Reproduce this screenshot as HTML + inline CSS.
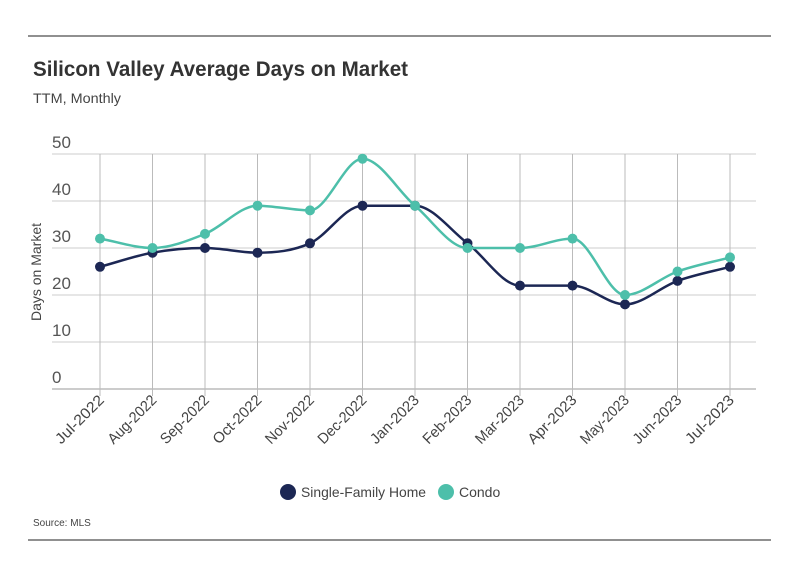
<!DOCTYPE html>
<html><head><meta charset="utf-8"><style>
body{margin:0;background:#fff;font-family:"Liberation Sans",sans-serif;}
svg text{font-family:"Liberation Sans",sans-serif;}
</style></head><body>
<svg id="chart" width="799" height="575">
<line x1="28" y1="36" x2="771" y2="36" stroke="#222" stroke-width="1"/>
<text x="33" y="76" font-size="21" font-weight="bold" fill="#333" textLength="375" lengthAdjust="spacingAndGlyphs">Silicon Valley Average Days on Market</text>
<text x="33" y="103" font-size="14" fill="#444" textLength="88" lengthAdjust="spacingAndGlyphs">TTM, Monthly</text>
<text transform="translate(41,272) rotate(-90)" text-anchor="middle" font-size="14" fill="#444">Days on Market</text>
<g id="grid"></g><g id="lines"></g><g id="xlabels"></g>
<g>
<circle cx="288" cy="492" r="8" fill="#1c2754"/>
<text x="301" y="497" font-size="14" fill="#444" textLength="125" lengthAdjust="spacingAndGlyphs">Single-Family Home</text>
<circle cx="446" cy="492" r="8" fill="#4dbfaa"/>
<text x="459" y="497" font-size="14" fill="#444">Condo</text>
</g>
<text x="33" y="526" font-size="10" fill="#444">Source:  MLS</text>
<line x1="28" y1="540" x2="771" y2="540" stroke="#222" stroke-width="1"/>
</svg>
<script>
const categories=["Jul-2022","Aug-2022","Sep-2022","Oct-2022","Nov-2022","Dec-2022","Jan-2023","Feb-2023","Mar-2023","Apr-2023","May-2023","Jun-2023","Jul-2023"];
const sfhValues=[26,29,30,29,31,39,39,31,22,22,18,23,26];
const condoValues=[32,30,33,39,38,49,39,30,30,32,20,25,28];
const yTicks=[0,10,20,30,40,50];
const NS="http://www.w3.org/2000/svg";
const x0=100,x1=730,yTop=154,yBot=389,yMax=50;
function xs(i){return x0+(x1-x0)*i/(categories.length-1);}
function ys(v){return yBot-(yBot-yTop)*v/yMax;}
function mk(tag,attrs,parent){const e=document.createElementNS(NS,tag);for(const k in attrs)e.setAttribute(k,attrs[k]);parent.appendChild(e);return e;}
const grid=document.getElementById('grid'),lines=document.getElementById('lines'),xl=document.getElementById('xlabels');
yTicks.forEach(t=>{
 const l=mk('line',{x1:52,x2:756,y1:ys(t),y2:ys(t),stroke:t===0?'#999':'#ccc','stroke-width':1},grid);
 
 
 const tx=mk('text',{x:52,y:ys(t)-6,'font-size':17,fill:'#555'},grid);
 tx.textContent=t;
 
 
});
categories.forEach((c,i)=>{
 const l=mk('line',{x1:xs(i),x2:xs(i),y1:yTop,y2:yBot+7,stroke:'#bbb','stroke-width':1},grid);
 
 
 const tx=mk('text',{transform:`translate(${xs(i)+5},${yBot+12}) rotate(-45)`,'text-anchor':'end','font-size':15,fill:'#444',textLength:62,lengthAdjust:'spacingAndGlyphs'},xl);
 tx.textContent=c;
 
 
});
function monoPath(pts){
 const n=pts.length,d=[],m=[];
 for(let i=0;i<n-1;i++)d.push((pts[i+1][1]-pts[i][1])/(pts[i+1][0]-pts[i][0]));
 m[0]=d[0];m[n-1]=d[n-2];
 for(let i=1;i<n-1;i++){m[i]=(d[i-1]*d[i]<=0)?0:(d[i-1]+d[i])/2;}
 for(let i=0;i<n-1;i++){if(d[i]===0){m[i]=0;m[i+1]=0;continue;}const a=m[i]/d[i],b=m[i+1]/d[i],s=a*a+b*b;if(s>9){const t=3/Math.sqrt(s);m[i]=t*a*d[i];m[i+1]=t*b*d[i];}}
 let p=`M${pts[0][0]},${pts[0][1]}`;
 for(let i=0;i<n-1;i++){const h=(pts[i+1][0]-pts[i][0])/3;p+=` C${pts[i][0]+h},${pts[i][1]+m[i]*h} ${pts[i+1][0]-h},${pts[i+1][1]-m[i+1]*h} ${pts[i+1][0]},${pts[i+1][1]}`;}
 return p;
}
function series(vals,color,name){
 const pts=vals.map((v,i)=>[xs(i),ys(v)]);
 const p=mk('path',{d:monoPath(pts),fill:'none',stroke:color,'stroke-width':2.5},lines);
 
 
 pts.forEach(q=>{const c=mk('circle',{cx:q[0],cy:q[1],r:5,fill:color},lines);
 
 });
}
series(sfhValues,'#1c2754','sfh');
series(condoValues,'#4dbfaa','condo');
</script>
</body></html>
